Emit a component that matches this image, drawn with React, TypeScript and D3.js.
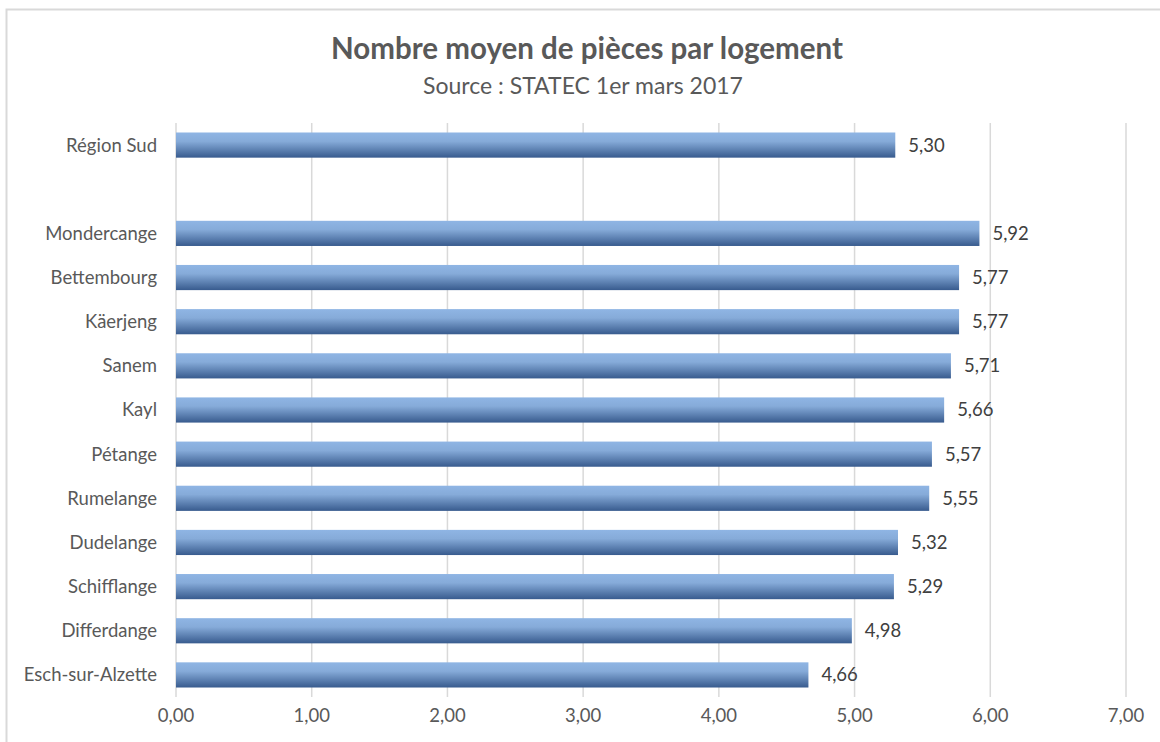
import { useEffect, useRef } from 'react';
import * as d3 from 'd3';

const categories = [
  'Région Sud', '', 'Mondercange', 'Bettembourg', 'Käerjeng', 'Sanem', 'Kayl',
  'Pétange', 'Rumelange', 'Dudelange', 'Schifflange', 'Differdange', 'Esch-sur-Alzette',
];
const values = [5.30, null, 5.92, 5.77, 5.77, 5.71, 5.66, 5.57, 5.55, 5.32, 5.29, 4.98, 4.66];
const xTicks = [0, 1, 2, 3, 4, 5, 6, 7];

const W = 1160;
const H = 742;
const FONT = 'Lato, "Open Sans", sans-serif';

const fmt = (v: number) => v.toFixed(2).replace('.', ',');

export default function App() {
  const svgRef = useRef<SVGSVGElement | null>(null);

  useEffect(() => {
    const svg = d3.select(svgRef.current);
    svg.selectAll('*').remove();

    const margin = { top: 123, right: 34, bottom: 45, left: 176 };

    // frame
    svg.append('rect')
      .attr('x', 6.5).attr('y', 9.5)
      .attr('width', W).attr('height', H)
      .attr('fill', '#fff')
      .attr('stroke', '#d9d9d9')
      .attr('stroke-width', 2);

    const defs = svg.append('defs');
    const grad = defs.append('linearGradient')
      .attr('id', 'barGrad')
      .attr('x1', 0).attr('y1', 0).attr('x2', 0).attr('y2', 1);
    grad.append('stop').attr('offset', '0%').attr('stop-color', '#8fb5e4');
    grad.append('stop').attr('offset', '35%').attr('stop-color', '#86abd9');
    grad.append('stop').attr('offset', '100%').attr('stop-color', '#385b8e');

    const x = d3.scaleLinear()
      .domain([0, 7])
      .range([margin.left, W - margin.right]);

    const y = d3.scaleBand()
      .domain(categories.map((c, i) => `${i}`))
      .range([margin.top, H - margin.bottom])
      .paddingInner(0.43)
      .paddingOuter(0.215);

    // gridlines
    svg.append('g')
      .selectAll('line')
      .data(xTicks)
      .enter()
      .append('line')
      .attr('x1', d => x(d)).attr('x2', d => x(d))
      .attr('y1', margin.top).attr('y2', H - margin.bottom)
      .attr('stroke', '#d9d9d9')
      .attr('stroke-width', 1.5);

    // tick labels
    svg.append('g')
      .selectAll('text')
      .data(xTicks)
      .enter()
      .append('text')
      .attr('x', d => x(d))
      .attr('y', 716)
      .attr('dy', '0.35em')
      .attr('text-anchor', 'middle')
      .attr('fill', '#595959')
      .style('font-family', FONT)
      .style('font-size', '18.5px')
      .text(d => fmt(d));

    const rows = categories.map((c, i) => ({ key: `${i}`, name: c, value: values[i] }));

    // category labels
    svg.append('g')
      .selectAll('text')
      .data(rows.filter(d => d.name))
      .enter()
      .append('text')
      .attr('x', 157)
      .attr('y', d => y(d.key)! + y.bandwidth() / 2)
      .attr('dy', '0.35em')
      .attr('text-anchor', 'end')
      .attr('fill', '#595959')
      .style('font-family', FONT)
      .style('font-size', '18.5px')
      .text(d => d.name);

    const withVal = rows.filter(d => d.value != null) as { key: string; name: string; value: number }[];

    svg.append('g')
      .selectAll('rect')
      .data(withVal)
      .enter()
      .append('rect')
      .attr('x', x(0))
      .attr('y', d => y(d.key)!)
      .attr('width', d => x(d.value) - x(0))
      .attr('height', y.bandwidth())
      .attr('fill', 'url(#barGrad)');

    svg.append('g')
      .selectAll('text')
      .data(withVal)
      .enter()
      .append('text')
      .attr('x', d => x(d.value) + 13)
      .attr('y', d => y(d.key)! + y.bandwidth() / 2)
      .attr('dy', '0.35em')
      .attr('fill', '#404040')
      .style('font-family', FONT)
      .style('font-size', '18.5px')
      .text(d => fmt(d.value));

    // title
    svg.append('text')
      .attr('x', 587).attr('y', 49)
      .attr('dy', '0.35em')
      .attr('text-anchor', 'middle')
      .attr('fill', '#595959')
      .style('font-family', FONT)
      .style('font-size', '29.5px')
      .style('font-weight', 'bold')
      .text('Nombre moyen de pièces par logement');

    svg.append('text')
      .attr('x', 583).attr('y', 86)
      .attr('dy', '0.35em')
      .attr('text-anchor', 'middle')
      .attr('fill', '#595959')
      .style('font-family', FONT)
      .style('font-size', '23px')
      .text('Source : STATEC 1er mars 2017');
  }, []);

  return (
    <svg
      ref={svgRef}
      width={W}
      height={H}
      style={{ position: 'absolute', left: 0, top: 0, display: 'block', background: '#fff' }}
    />
  );
}
